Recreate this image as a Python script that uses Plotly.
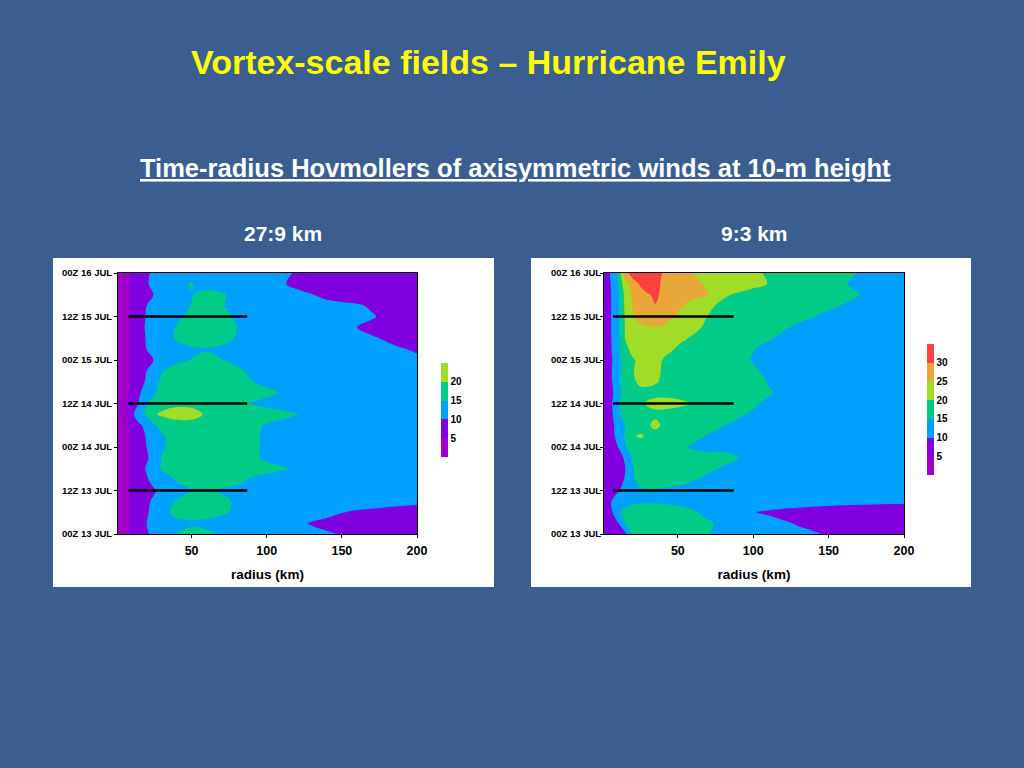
import plotly.graph_objects as go

# ---------------- data ----------------
radius_km = [1, 5, 10, 15, 20, 25, 30, 35, 40, 50, 60, 70, 80, 90, 100,
             110, 120, 130, 140, 150, 160, 170, 180, 190, 200]
hours = [0, 3, 6, 9, 12, 15, 18, 21, 24, 27, 30, 33, 36, 39, 42, 45, 48,
         51, 54, 57, 60, 63, 66, 69, 72]   # hours after 00Z 13 JUL
time_ticks = [0, 12, 24, 36, 48, 60, 72]
time_labels = ["00Z 13 JUL", "12Z 13 JUL", "00Z 14 JUL", "12Z 14 JUL",
               "00Z 15 JUL", "12Z 15 JUL", "00Z 16 JUL"]
radius_ticks = [50, 100, 150, 200]

# axisymmetric 10-m wind (m/s), 27:9 km run, rows = hours, cols = radius_km
wind_27_9 = [
    [2, 3.5, 5.5, 7.8, 9.5, 11.2, 13, 14, 15.1, 16, 15.5, 14.7, 13.5, 12.8, 12, 11.5, 11, 10.6, 10.3, 9.9, 9.5, 9.2, 9, 8.8, 8.6],
    [2, 3.5, 5.5, 8, 10, 11.5, 13, 13.7, 14.2, 14.5, 14.3, 13.8, 13.2, 12.5, 11.8, 11.2, 10.5, 9.8, 9.3, 8.8, 8.5, 8.3, 8.2, 8.1, 8],
    [2, 3.5, 5.5, 7.8, 9.6, 11, 13.5, 14.9, 16, 16.2, 16, 15.5, 14.5, 13.5, 12.8, 12.3, 11.8, 11.3, 10.8, 10.1, 9.7, 9.5, 9.3, 9.2, 9.2],
    [2, 3.5, 5.5, 7.8, 9.4, 10.6, 12.5, 14, 15.3, 16.5, 16.5, 15.8, 14.5, 13.5, 13, 12.6, 12.3, 12, 11.7, 11.4, 11.2, 11, 10.8, 10.6, 10.4],
    [2, 3.5, 5.5, 7.5, 8.8, 9.6, 11, 12.3, 13.5, 14.7, 14.8, 14.6, 14.2, 13.7, 13.3, 13, 12.6, 12.3, 12, 11.8, 11.6, 11.5, 11.4, 11.3, 11.2],
    [2, 3.5, 5.5, 7.8, 9.5, 11.5, 13, 14.2, 15.2, 16.5, 17, 16.5, 15.8, 14.6, 14, 13.5, 13, 12.6, 12.3, 12, 11.8, 11.6, 11.5, 11.4, 11.3],
    [2, 3.5, 5.5, 8.3, 10.4, 13, 15.4, 16.3, 17, 17.5, 17.5, 17, 16.5, 16.2, 15.8, 15.3, 14.5, 13.8, 13.2, 12.8, 12.4, 12, 11.8, 11.6, 11.5],
    [2, 3.5, 5.5, 7.8, 9.5, 11.5, 15.2, 16.3, 17, 17.5, 17.5, 17, 16.3, 15.6, 14.5, 14, 13.5, 13, 12.6, 12.3, 12, 11.8, 11.6, 11.5, 11.4],
    [2, 3.5, 5.5, 8, 10, 12.5, 14.5, 15.5, 16.5, 17.5, 17.5, 17, 16.2, 15.6, 14.5, 14, 13.5, 13, 12.6, 12.3, 12, 11.8, 11.6, 11.5, 11.4],
    [2, 3.5, 5.5, 8.5, 10.3, 12.5, 14.5, 15.5, 16.5, 17.5, 17.5, 17, 16.2, 15.6, 14.5, 14, 13.5, 13, 12.6, 12.3, 12, 11.8, 11.6, 11.5, 11.4],
    [2, 3.5, 5.8, 9.2, 11.5, 14.5, 16.5, 17.3, 18, 18.5, 18, 17.5, 16.5, 15.8, 14.7, 14, 13.5, 13, 12.6, 12.3, 12, 11.8, 11.6, 11.5, 11.4],
    [2, 3.5, 8.5, 13, 16, 19.4, 20.8, 21.6, 22, 21.5, 19.5, 18.5, 17.5, 17, 16.5, 16, 15.1, 14.5, 14, 13.5, 13, 12.8, 12.6, 12.5, 12.4],
    [2, 3.5, 6.5, 10.3, 14.8, 16.5, 18, 18.7, 19, 19, 18.5, 17.5, 16, 14.8, 14, 13.5, 13, 12.6, 12.3, 12, 11.8, 11.6, 11.5, 11.4, 11.3],
    [2, 3.5, 6, 9.6, 11.5, 14.6, 16, 16.8, 17.5, 18.5, 18.5, 18, 17, 16.5, 15.8, 14.8, 14, 13.3, 12.8, 12.4, 12, 11.8, 11.6, 11.5, 11.4],
    [2, 3.5, 5.5, 8.5, 10.5, 14.2, 15.6, 16.4, 17, 18, 18.5, 18, 16.5, 15.1, 14, 13.5, 13, 12.6, 12.3, 12, 11.8, 11.6, 11.5, 11.4, 11.3],
    [2, 3.5, 5.5, 8, 10, 12.5, 14.7, 15.8, 16.5, 17.5, 18, 17, 15.8, 14.2, 13.5, 13, 12.5, 12.2, 12, 11.8, 11.6, 11.5, 11.4, 11.3, 11.2],
    [2, 3.5, 5.5, 7.5, 9, 10.1, 12, 13.3, 14.3, 15.1, 16, 15.1, 14, 13.5, 13, 12.5, 12, 11.8, 11.5, 11.3, 11, 10.8, 10.6, 10.4, 10.3],
    [2, 3.5, 5.5, 8, 10, 11.8, 13, 13.5, 14, 14.6, 14.7, 14.3, 13.8, 13.3, 12.8, 12.3, 12, 11.7, 11.4, 11.2, 11, 10.7, 10.4, 10.1, 9.8],
    [2, 3.5, 5.5, 8.2, 10.3, 12, 13.6, 14.5, 15.3, 16.5, 17, 16.3, 14.7, 13.5, 12.5, 12, 11.5, 11.2, 11, 10.8, 10.5, 10.2, 9.8, 9.3, 8.8],
    [2, 3.5, 5.5, 8.5, 10.5, 12, 13.5, 14.4, 15.2, 16.5, 17, 16.5, 15.05, 13.5, 12.5, 12, 11.5, 11, 10.8, 10.5, 10, 9.5, 9, 8.5, 8],
    [2, 3.5, 5.5, 8.2, 10.3, 11.8, 13, 13.7, 14.4, 15.8, 16.5, 16, 14.5, 13.5, 13, 12.5, 12, 11.5, 11, 10.8, 10.5, 10.2, 9.5, 9, 8.5],
    [2, 3.5, 5.5, 8, 10, 11.5, 12.5, 13.3, 14, 15.1, 16.5, 15.3, 13.8, 13, 12.5, 12, 11.5, 11, 10.8, 10.5, 10.3, 9.7, 9, 8.5, 8],
    [2, 3.5, 5.5, 7.5, 9, 10.1, 11.5, 12.5, 13.5, 14.8, 16.5, 15.5, 13.8, 13, 12, 11.5, 10.8, 10.1, 9.3, 9, 8.5, 8, 8, 8, 8],
    [2, 3.5, 5.5, 7.5, 9.6, 11, 12, 13, 14, 15.3, 13.0, 12.8, 12.5, 12, 11.5, 10.3, 9.3, 9, 8.5, 8, 7.5, 7.5, 7.5, 7.5, 7.5],
    [2, 3.5, 5.5, 7.5, 9.4, 10.8, 11.5, 12, 12.5, 13, 13, 12.5, 12, 11.5, 11, 10.5, 9.8, 9.5, 9, 8.5, 8, 7.5, 7.5, 7.5, 7.5],
]

# axisymmetric 10-m wind (m/s), 9:3 km run
wind_9_3 = [
    [5.5, 6.5, 7.5, 8.8, 15.2, 16, 16.5, 16.5, 16.3, 15.8, 15.6, 15.1, 14.2, 13, 12.3, 11.6, 11, 10.5, 10.2, 9.8, 9.5, 9.3, 9.2, 9.1, 9],
    [5.5, 7.5, 9.5, 15.1, 17, 17.5, 17.5, 17.3, 17, 16.5, 16, 15.3, 14.5, 13, 11.8, 11, 10.3, 9.8, 9.5, 9.2, 9, 8.9, 8.8, 8.8, 8.8],
    [5.5, 8, 14, 16, 16.8, 17, 17, 16.8, 16.5, 16, 15.3, 14.3, 13, 11.8, 10.1, 9.6, 9.2, 9, 8.8, 8.7, 8.6, 8.5, 8.5, 8.5, 8.5],
    [5.5, 9.5, 12.3, 13.5, 14.2, 14.5, 14.6, 14.6, 14.5, 14.3, 14, 13.6, 13.2, 12.8, 12.4, 12, 11.7, 11.4, 11.2, 11, 10.8, 10.7, 10.6, 10.5, 10.4],
    [5.5, 7.5, 9.5, 11.5, 13.5, 14.6, 14.8, 14.8, 14.7, 14.5, 14.2, 14, 13.8, 13.6, 13.4, 13.2, 13, 12.9, 12.8, 12.7, 12.6, 12.5, 12.4, 12.3, 12.2],
    [5.5, 7, 9, 10.2, 14.5, 16, 16.3, 16.3, 16.1, 15.6, 15.1, 14.6, 14.3, 14, 13.8, 13.6, 13.4, 13.2, 13, 12.9, 12.8, 12.7, 12.6, 12.5, 12.4],
    [5.5, 6.8, 8.8, 9.9, 14.8, 16.5, 17, 17, 16.8, 16.3, 15.8, 15.3, 14.8, 14.4, 14.1, 13.8, 13.6, 13.4, 13.2, 13, 12.9, 12.8, 12.7, 12.6, 12.5],
    [5.5, 7, 9, 10.3, 15.5, 17, 17.5, 17.5, 17.3, 16.8, 16.3, 15.8, 15.6, 15.05, 14.6, 14.2, 13.9, 13.6, 13.4, 13.2, 13, 12.9, 12.8, 12.7, 12.6],
    [5.5, 7.2, 9.8, 14.5, 17, 17.8, 18, 17.5, 17, 15.6, 14.6, 14.3, 14.5, 14.2, 13.9, 13.6, 13.4, 13.2, 13, 12.9, 12.8, 12.7, 12.6, 12.5, 12.4],
    [5.5, 7.5, 11.5, 15.5, 19.5, 20.5, 19.5, 18.5, 18, 17, 15.8, 14.8, 14.3, 14, 13.7, 13.5, 13.3, 13.1, 13, 12.9, 12.8, 12.7, 12.6, 12.5, 12.4],
    [5.5, 7.8, 12, 15.1, 17, 18, 19.5, 21, 19.5, 18, 17, 16.2, 15.1, 14.5, 14, 13.7, 13.5, 13.3, 13.1, 13, 12.9, 12.8, 12.7, 12.6, 12.5],
    [5.5, 8, 13.5, 17, 18, 18.5, 19, 19.2, 19, 18.5, 18, 17, 16, 15.3, 14.7, 14.3, 14, 13.7, 13.5, 13.3, 13.1, 13, 12.9, 12.8, 12.7],
    [5.5, 8.3, 14, 17.5, 18.8, 19.5, 20.4, 21, 21.2, 20.8, 19.9, 18.5, 17.5, 16.5, 15.3, 14.6, 14.2, 13.9, 13.6, 13.4, 13.2, 13.1, 13, 12.9, 12.8],
    [5.5, 8.3, 12.5, 17.5, 18.8, 19.2, 19, 19, 19, 18.8, 18.5, 18, 17.4, 16.8, 16.2, 15.2, 14.6, 14.2, 14, 13.8, 13.5, 13.3, 13.1, 13, 12.9],
    [5.5, 8.5, 13.8, 17.2, 19.5, 20.6, 20.8, 20.3, 19.6, 18.8, 18, 17.3, 16.7, 16.2, 15.7, 14.9, 14.4, 14, 13.7, 13.5, 13.3, 13.1, 13, 12.9, 12.8],
    [5.5, 9, 13.5, 17, 19.8, 21, 21.5, 20.8, 19.7, 18.6, 17.7, 17, 16.4, 15.9, 15.2, 14.7, 14.3, 14, 13.7, 13.5, 13.3, 13.1, 13, 12.9, 12.8],
    [5.5, 8.5, 13.5, 17, 19.5, 21, 21.5, 21, 19.9, 18.5, 17.5, 16.7, 16, 15.4, 14.9, 14.5, 14.2, 13.9, 13.6, 13.4, 13.2, 13, 12.9, 12.8, 12.7],
    [5.5, 9, 14, 18.5, 21.5, 22.5, 22.8, 22.5, 21.5, 19.5, 18, 17, 16.2, 15.5, 15.05, 14.5, 14.1, 13.8, 13.5, 13.3, 13.1, 13, 12.9, 12.8, 12.7],
    [5.5, 9.3, 13.5, 20.1, 22, 23, 23.5, 23.5, 23, 21, 19.5, 18.3, 17.3, 16.5, 15.8, 15.2, 14.6, 14.2, 13.9, 13.6, 13.4, 13.2, 13, 12.9, 12.8],
    [5.5, 9.5, 12.8, 20.3, 23, 24.2, 24.7, 24.8, 24.5, 23, 21, 19.2, 18, 17, 16.3, 15.7, 15.2, 14.7, 14.3, 14, 13.7, 13.5, 13.3, 13.1, 13],
    [5.5, 9.5, 12.8, 20.5, 24.5, 26.5, 27.5, 27.8, 27, 24.5, 22, 19.9, 18.5, 17.6, 17, 16.4, 15.9, 15.4, 15.05, 14.6, 14.2, 13.9, 13.6, 13.3, 13.1],
    [5.5, 9.5, 12.8, 21, 25.3, 27.5, 28.8, 29.9, 29, 26, 23.5, 20.7, 19.2, 18.3, 17.6, 17, 16.5, 16, 15.6, 15.3, 14.9, 14.4, 13.9, 13.5, 13.2],
    [5.5, 9.5, 13, 21.5, 26, 28.5, 29.7, 30.5, 29.5, 27.5, 26, 25.1, 20.5, 19.5, 18.5, 17.8, 17.2, 16.7, 16.3, 15.9, 15.5, 15.05, 14.2, 13.7, 13.4],
    [5.5, 9.6, 14.6, 23, 28, 30.5, 32, 31, 29.5, 27.5, 25.8, 24.5, 23, 22, 21, 19.9, 18.8, 17.6, 16.7, 15.9, 15.2, 14.5, 14, 13.6, 13.3],
    [5.5, 10.1, 15.5, 28.5, 32, 33, 33, 32, 29.8, 27, 24.9, 23.5, 22.5, 21.5, 20.6, 19.6, 18.5, 17.5, 16.8, 16.2, 15.6, 14.9, 14.3, 13.8, 13.5],
]

# black reference lines (hours, radial extent km)
marker_hours = [12, 36, 60]
marker_r_27_9 = [8, 87]
marker_r_9_3 = [7, 87]

band_colors = ["#A000C8", "#8000E0", "#00A0FF", "#00CC88",
               "#A0DC28", "#E8A838", "#FF4040"]

FONT = "Liberation Sans, Arial, Helvetica, sans-serif"


def stepped_scale(colors):
    n = len(colors)
    scale = []
    for k, c in enumerate(colors):
        lo = 0.0 if k == 0 else (k - 0.5) / (n - 1)
        hi = 1.0 if k == n - 1 else (k + 0.5) / (n - 1)
        scale.append([lo, c])
        scale.append([hi, c])
    return scale


def marker_line(hrs, rr):
    xs, ys = [], []
    for h in hrs:
        xs += [rr[0], rr[1], None]
        ys += [h, h, None]
    return xs, ys


W, H = 1024, 768
px = lambda v: v / W
py = lambda v: 1 - v / H

fig = go.Figure()

cb_common = dict(thickness=7, thicknessmode="pixels", xpad=0, ypad=0,
                 outlinewidth=0, ticks="", xref="paper", yref="paper",
                 xanchor="left", yanchor="middle", lenmode="pixels",
                 tickfont=dict(family=FONT, size=10, color="black", weight="bold"))

fig.add_trace(go.Contour(
    x=radius_km, y=hours, z=wind_27_9,
    zmin=0, zmax=25, autocontour=False,
    contours=dict(start=5, end=20, size=5, coloring="fill", showlines=False),
    colorscale=stepped_scale(band_colors[:5]),
    line=dict(width=0),
    colorbar=dict(x=px(441), y=py(410), len=94, tickvals=[5, 10, 15, 20], **cb_common),
    xaxis="x", yaxis="y", hoverinfo="skip",
))
fig.add_trace(go.Contour(
    x=radius_km, y=hours, z=wind_9_3,
    zmin=0, zmax=35, autocontour=False,
    contours=dict(start=5, end=30, size=5, coloring="fill", showlines=False),
    colorscale=stepped_scale(band_colors),
    line=dict(width=0),
    colorbar=dict(x=px(927), y=py(409.5), len=131, tickvals=[5, 10, 15, 20, 25, 30], **cb_common),
    xaxis="x2", yaxis="y2", hoverinfo="skip",
))

lx, ly = marker_line(marker_hours, marker_r_27_9)
fig.add_trace(go.Scatter(x=lx, y=ly, mode="lines", line=dict(color="black", width=2.5),
                         xaxis="x", yaxis="y", showlegend=False, hoverinfo="skip"))
rx, ry = marker_line(marker_hours, marker_r_9_3)
fig.add_trace(go.Scatter(x=rx, y=ry, mode="lines", line=dict(color="black", width=2.5),
                         xaxis="x2", yaxis="y2", showlegend=False, hoverinfo="skip"))

xaxis_common = dict(range=[1, 200], tickvals=radius_ticks, showgrid=False, zeroline=False,
                    showline=True, mirror=True, linecolor="black", linewidth=1,
                    ticks="outside", ticklen=3, tickcolor="black", automargin=False,
                    ticklabelstandoff=2,
                    tickfont=dict(family=FONT, size=12.5, color="black", weight="bold"),
                    title=dict(text="radius (km)", standoff=12,
                               font=dict(family=FONT, size=13.5, color="black", weight="bold")))
yaxis_common = dict(range=[0, 72], tickvals=time_ticks, ticktext=time_labels,
                    showgrid=False, zeroline=False, showline=True, mirror=True,
                    linecolor="black", linewidth=1, ticks="outside", ticklen=3,
                    tickcolor="black", automargin=False,
                    tickfont=dict(family=FONT, size=9.5, color="black", weight="bold"),
                    domain=[py(534), py(273)])

fig.update_layout(
    width=W, height=H,
    margin=dict(l=0, r=0, t=0, b=0, autoexpand=False),
    paper_bgcolor="#3A5E8F",
    plot_bgcolor="white",
    showlegend=False,
    xaxis=dict(domain=[px(118), px(417)], anchor="y", **xaxis_common),
    yaxis=dict(anchor="x", **yaxis_common),
    xaxis2=dict(domain=[px(604), px(904)], anchor="y2", **xaxis_common),
    yaxis2=dict(anchor="x2", ticklabelstandoff=-3, **yaxis_common),
    shapes=[
        dict(type="rect", xref="paper", yref="paper", x0=px(53), x1=px(494),
             y0=py(587), y1=py(258), fillcolor="white", line=dict(width=0), layer="below"),
        dict(type="rect", xref="paper", yref="paper", x0=px(531), x1=px(971),
             y0=py(587), y1=py(258), fillcolor="white", line=dict(width=0), layer="below"),
    ],
    annotations=[
        dict(text="Vortex-scale fields – Hurricane Emily", x=px(488), y=py(62),
             xref="paper", yref="paper", showarrow=False, xanchor="center", yanchor="middle",
             font=dict(family=FONT, size=34, color="#FFFF00", weight="bold")),
        dict(text="Time-radius Hovmollers of axisymmetric winds at 10-m height",
             x=px(515), y=py(167.5), xref="paper", yref="paper", showarrow=False,
             xanchor="center", yanchor="middle",
             font=dict(family=FONT, size=25.5, color="white", weight="bold", lineposition="under")),
        dict(text="27:9 km", x=px(283), y=py(233), xref="paper", yref="paper",
             showarrow=False, xanchor="center", yanchor="middle",
             font=dict(family=FONT, size=21, color="white", weight="bold")),
        dict(text="9:3 km", x=px(754), y=py(233), xref="paper", yref="paper",
             showarrow=False, xanchor="center", yanchor="middle",
             font=dict(family=FONT, size=21, color="white", weight="bold")),
    ],
)

fig.write_html("out.html", config={"displayModeBar": False},
               post_script="document.body.style.margin='0';document.body.style.overflow='hidden';")
